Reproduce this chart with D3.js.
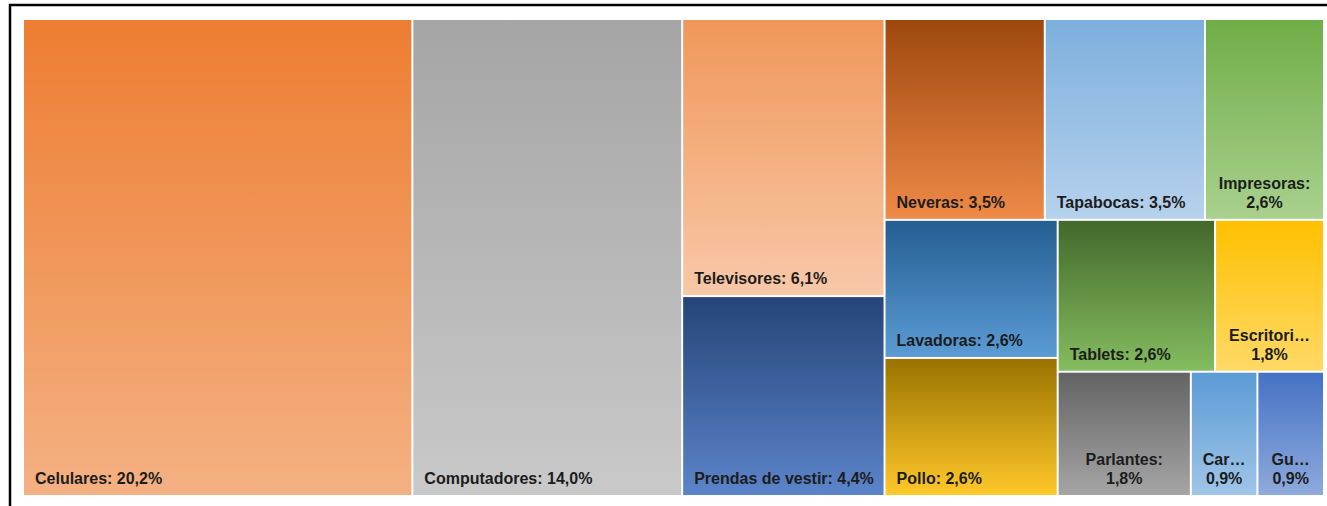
<!DOCTYPE html>
<html lang="es">
<head>
<meta charset="UTF-8">
<script src="https://d3js.org/d3.v7.min.js"></script>
<title>Treemap</title>
<style>
html, body { margin: 0; padding: 0; background: #fff; }
svg { display: block; }
.label { font-family: 'Liberation Sans', Arial, sans-serif; font-weight: bold; font-size: 16px; fill: #1c1c1c; }
</style>
</head>
<body>
<svg id="chart"></svg>
<script>
// categories, shares (%), gradient colours (top -> bottom)
let names = ['Celulares', 'Computadores', 'Televisores', 'Prendas de vestir', 'Neveras', 'Tapabocas',
             'Impresoras', 'Lavadoras', 'Pollo', 'Tablets', 'Escritori…', 'Parlantes', 'Car…', 'Gu…']
let values = [20.2, 14.0, 6.1, 4.4, 3.5, 3.5, 2.6, 2.6, 2.6, 2.6, 1.8, 1.8, 0.9, 0.9]
let topColors = ['#ED7D31', '#A5A5A5', '#F0975A', '#264478', '#9E480E', '#7CAFDD',
                 '#70AD47', '#255E91', '#997300', '#43682B', '#FFC000', '#636363', '#5B9BD5', '#4472C4']
let bottomColors = ['#F4B183', '#C9C9C9', '#F8C8A8', '#5B84CA', '#EF8A48', '#B6D2EC',
                    '#A9D18E', '#5B9BD5', '#FFC82A', '#84BD5F', '#FFD966', '#A5A5A5', '#A0C5E8', '#8FAADC']

let width = 1327
let height = 506

let svg = d3.select('#chart')
    .attr('width', width)
    .attr('height', height)

let fmt = (v) => d3.format('.1f')(v).replace('.', ',') + '%'

let items = names.map((n, i) => ({name: n, value: values[i], i: i}))

let root = d3.hierarchy({children: items})
    .sum(d => d.value || 0)
    .sort((a, b) => b.value - a.value)

d3.treemap()
    .tile(d3.treemapSquarify.ratio(1.065))
    .size([1299, 475])
    .paddingInner(2)(root)

let defs = svg.append('defs')
items.forEach((d, i) => {
    let g = defs.append('linearGradient')
        .attr('id', 'grad' + i)
        .attr('x1', 0).attr('y1', 0).attr('x2', 0).attr('y2', 1)
    g.append('stop').attr('offset', '0%').attr('stop-color', topColors[i])
    g.append('stop').attr('offset', '100%').attr('stop-color', bottomColors[i])
})

let plot = svg.append('g').attr('transform', 'translate(24,20)')

let cell = plot.selectAll('g.cell')
    .data(root.leaves())
    .enter()
    .append('g')
    .attr('class', 'cell')
    .attr('transform', d => 'translate(' + d.x0 + ',' + d.y0 + ')')

cell.append('rect')
    .attr('width', d => d.x1 - d.x0)
    .attr('height', d => d.y1 - d.y0)
    .attr('fill', d => 'url(#grad' + d.data.i + ')')

cell.each(function(d) {
    let g = d3.select(this)
    let w = d.x1 - d.x0
    let h = d.y1 - d.y0
    let truncated = d.data.name.endsWith('…')
    let oneLine = d.data.name + ': ' + fmt(d.data.value)
    let t = g.append('text')
        .attr('class', 'label')
        .attr('x', 11)
        .attr('y', h - 11)
        .text(oneLine)
    if (truncated || t.node().getComputedTextLength() + 16 > w) {
        t.remove()
        let lines = [d.data.name + (truncated ? '' : ':'), fmt(d.data.value)]
        g.selectAll('text.two')
            .data(lines)
            .enter()
            .append('text')
            .attr('class', 'label two')
            .attr('text-anchor', 'middle')
            .attr('x', w / 2)
            .attr('y', (l, k) => h - 11 - (1 - k) * 19)
            .text(l => l)
    }
})

// outer frame
svg.append('rect')
    .attr('x', 10)
    .attr('y', 5)
    .attr('width', 1400)
    .attr('height', 600)
    .attr('fill', 'none')
    .attr('stroke', '#000')
    .attr('stroke-width', 2.5)
</script>
</body>
</html>
